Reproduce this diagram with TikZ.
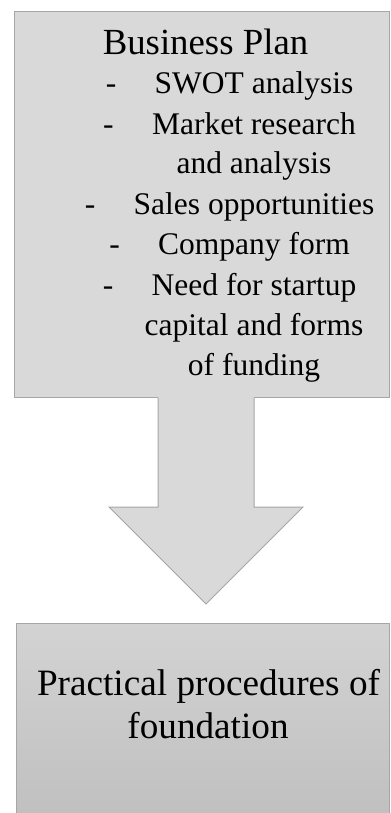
\documentclass[tikz,border=0pt]{standalone}
\usepackage{fontspec}
\setmainfont{Liberation Serif}
\definecolor{boxgray}{HTML}{D9D9D9}
\definecolor{edgegray}{HTML}{A6A6A6}
\definecolor{gradtop}{HTML}{D3D3D3}
\definecolor{gradbot}{HTML}{BFBFBF}
\begin{document}
\begin{tikzpicture}[x=1bp,y=-1bp,
  boxfill/.style={fill=boxgray, draw=edgegray, line width=1bp},
  itemtext/.style={font=\fontsize{31.5bp}{38bp}\selectfont, anchor=base, inner sep=0pt},
  titletext/.style={font=\fontsize{36.8bp}{44bp}\selectfont, anchor=base, inner sep=0pt},
  dashmark/.style={font=\fontsize{31.5bp}{38bp}\selectfont, anchor=base east, inner sep=0pt, xshift=-38bp}]
\useasboundingbox (0,0) rectangle (390,813);
\clip (0,0) rectangle (390,813);
% top box
\node[boxfill, rectangle, minimum width=375bp, minimum height=386bp, anchor=north west, inner sep=0pt] (plan) at (14,11) {};
% arrow
\fill[boxgray] (158,396) -- (158,507) -- (109,507) -- (206,604) -- (303,507) -- (254,507) -- (254,396) -- cycle;
\draw[edgegray, line width=1bp, line join=miter] (158,397.5) -- (158,507) -- (109,507) -- (206,604) -- (303,507) -- (254,507) -- (254,397.5);
% bottom box
\node[draw=edgegray, line width=1bp, top color=gradtop, bottom color=gradbot, rectangle, minimum width=373bp, minimum height=200bp, anchor=north west, inner sep=0pt] (found) at (16,623) {};
% texts top
\node[titletext] (title) at (205.5,55) {Business Plan};
\node[itemtext] (t1) at (254,93) {SWOT analysis};
\node[itemtext] (t2) at (254,134) {Market research};
\node[itemtext] (t3) at (254,173) {and analysis};
\node[itemtext] (t4) at (254,214) {Sales opportunities};
\node[itemtext] (t5) at (254,254) {Company form};
\node[itemtext] (t6) at (254,295) {Need for startup};
\node[itemtext] (t7) at (254,335) {capital and forms};
\node[itemtext] (t8) at (254,375) {of funding};
\node[dashmark] (d1) at (t1.base west) {-};
\node[dashmark] (d2) at (t2.base west) {-};
\node[dashmark] (d4) at (t4.base west) {-};
\node[dashmark] (d5) at (t5.base west) {-};
\node[dashmark] (d6) at (t6.base west) {-};
% texts bottom
\node[titletext, font=\fontsize{37.2bp}{44bp}\selectfont] (b1) at (208.5,695) {Practical procedures of};
\node[titletext, font=\fontsize{37.2bp}{44bp}\selectfont] (b2) at (208,738) {foundation};
\end{tikzpicture}
\end{document}
